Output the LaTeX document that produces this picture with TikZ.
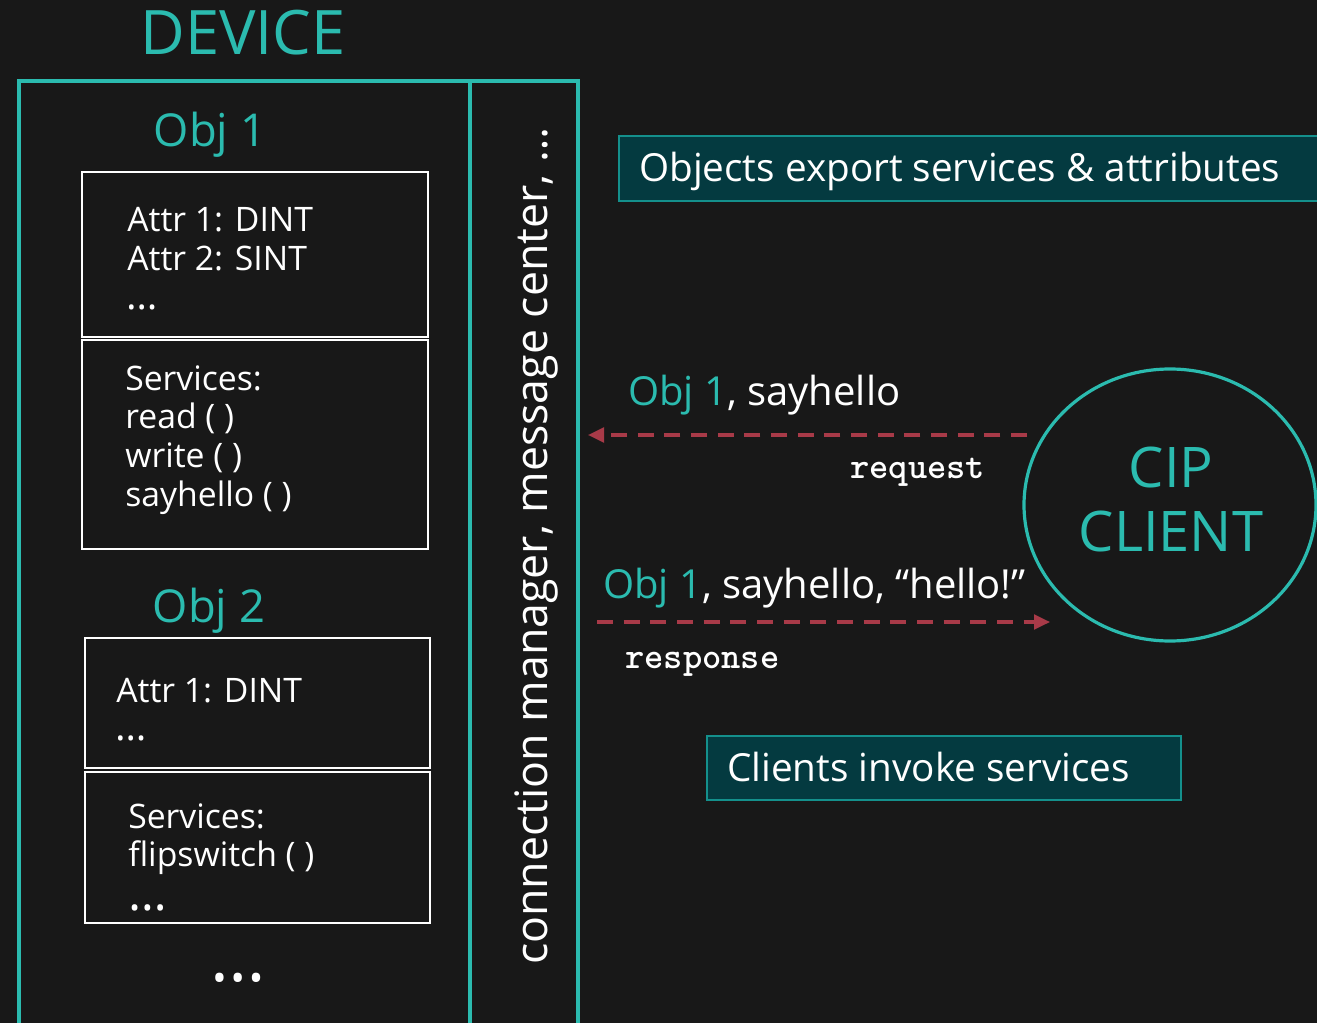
\documentclass[tikz,border=0pt]{standalone}
\usepackage{fontspec}
\setmainfont{Open Sans}
\usetikzlibrary{arrows.meta,shapes.geometric}
\definecolor{bg}{HTML}{181818}
\definecolor{tealtxt}{HTML}{2BBBAF}
\definecolor{boxfill}{HTML}{043A40}
\definecolor{boxline}{HTML}{14908C}
\definecolor{dashred}{HTML}{A83A48}
\begin{document}
\begin{tikzpicture}[x=0.75pt,y=-0.75pt,
  devline/.style={draw=tealtxt,line width=2.4pt},
  objbox/.style={draw=white,line width=1.6pt,inner sep=0pt},
  boxtxt/.style={text=white,font=\fontsize{25.3}{30}\selectfont,anchor=base west,inner sep=0pt},
  dotstxt/.style={text=white,font=\fontsize{30}{34}\selectfont,anchor=base west,inner sep=0pt},
  ttl/.style={text=tealtxt,inner sep=0pt},
  notebox/.style={draw=boxline,fill=boxfill,line width=1.5pt},
  notetxt/.style={text=white,font=\fontsize{29}{34}\selectfont,anchor=base west,inner sep=0pt},
  msg/.style={dashred,line width=2.4pt,dash pattern=on 12pt off 8pt,-{Triangle[length=12pt,width=11pt]}},
  msgtxt/.style={text=white,font=\fontsize{30}{35}\selectfont,anchor=base west,inner sep=0pt},
  kw/.style={text=white,font=\ttfamily\bfseries\fontsize{27.5}{32}\selectfont,anchor=base west,inner sep=0pt}
]
\fill[bg] (0,0) rectangle (1317,1023);
\useasboundingbox (0,0) rectangle (1317,1023);

% device
\node[ttl,font=\fontsize{46}{52}\selectfont] (device) at (243,33) {DEVICE};
\draw[devline] (19,1035) |- (578,81) -- (578,1035);
\draw[devline] (470,81) -- (470,1035);

% Obj 1
\node[ttl,font=\fontsize{34}{40}\selectfont] (obj1) at (210,135) {Obj 1};
\node[objbox,minimum width=259.5pt,minimum height=123.75pt] (o1attr) at (255,254.5) {};
\node[objbox,minimum width=259.5pt,minimum height=156.75pt] (o1serv) at (255,444.5) {};
\node[boxtxt] (a11) at (127,232) {Attr 1: DINT};
\node[boxtxt] (a12) at (127,271) {Attr 2: SINT};
\node[dotstxt] (a13) at (126,310) {…};
\node[boxtxt] (s11) at (125,391) {Services:};
\node[boxtxt] (s12) at (125,429) {read ( )};
\node[boxtxt] (s13) at (125,467) {write ( )};
\node[boxtxt] (s14) at (125,506) {sayhello ( )};

% Obj 2
\node[ttl,font=\fontsize{34}{40}\selectfont] (obj2) at (209,611) {Obj 2};
\node[objbox,minimum width=258.75pt,minimum height=97.5pt] (o2attr) at (257.5,703) {};
\node[objbox,minimum width=258.75pt,minimum height=113.25pt] (o2serv) at (257.5,847.5) {};
\node[boxtxt] (a21) at (116,702) {Attr 1: DINT};
\node[dotstxt] (a22) at (115,740) {…};
\node[boxtxt] (s21) at (128,828) {Services:};
\node[boxtxt] (s22) at (128,866) {flipswitch ( )};
\node[dotstxt,font=\fontsize{37}{40}\selectfont] (s23) at (128,910) {…};
\node[text=white,font=\fontsize{53}{60}\selectfont,inner sep=0pt,anchor=base] (more) at (238,981) {…};

% column
\node[text=white,font=\fontsize{33.5}{38}\selectfont,rotate=90,anchor=base west,inner sep=0pt] (cm) at (547,965) {connection manager, message center, …};

% notes
\draw[notebox] (1330,136) -| (619,201) -- (1330,201);
\node[notetxt] (n1) at (639,182) {Objects export services \& attributes};
\node[notebox,minimum width=355.5pt,minimum height=48pt] (n2box) at (944,768) {};
\node[notetxt] (n2) at (727,781) {Clients invoke services};

% client
\node[draw=tealtxt,line width=2.4pt,ellipse,minimum width=219pt,minimum height=204pt,inner sep=0pt] (client) at (1170,505) {};
\node[ttl,font=\fontsize{42}{48}\selectfont] (cip) at (1171,467) {CIP};
\node[ttl,font=\fontsize{42}{48}\selectfont] (cl) at (1171,531) {CLIENT};

% messages
\coordinate (reqS) at (1027,435);
\coordinate (reqE) at (588,435);
\coordinate (resS) at (597,622);
\coordinate (resE) at (1050,622);
\draw[msg] (reqS) -- (reqE);
\draw[msg] (resS) -- (resE);
\node[msgtxt] (m1) at (628,406) {\textcolor{tealtxt}{Obj 1}, sayhello};
\node[kw] (req) at (850,478) {request};
\node[msgtxt] (m2) at (603,598) {\textcolor{tealtxt}{Obj 1}, sayhello, “hello!”};
\node[kw] (res) at (625,668) {response};
\end{tikzpicture}
\end{document}
